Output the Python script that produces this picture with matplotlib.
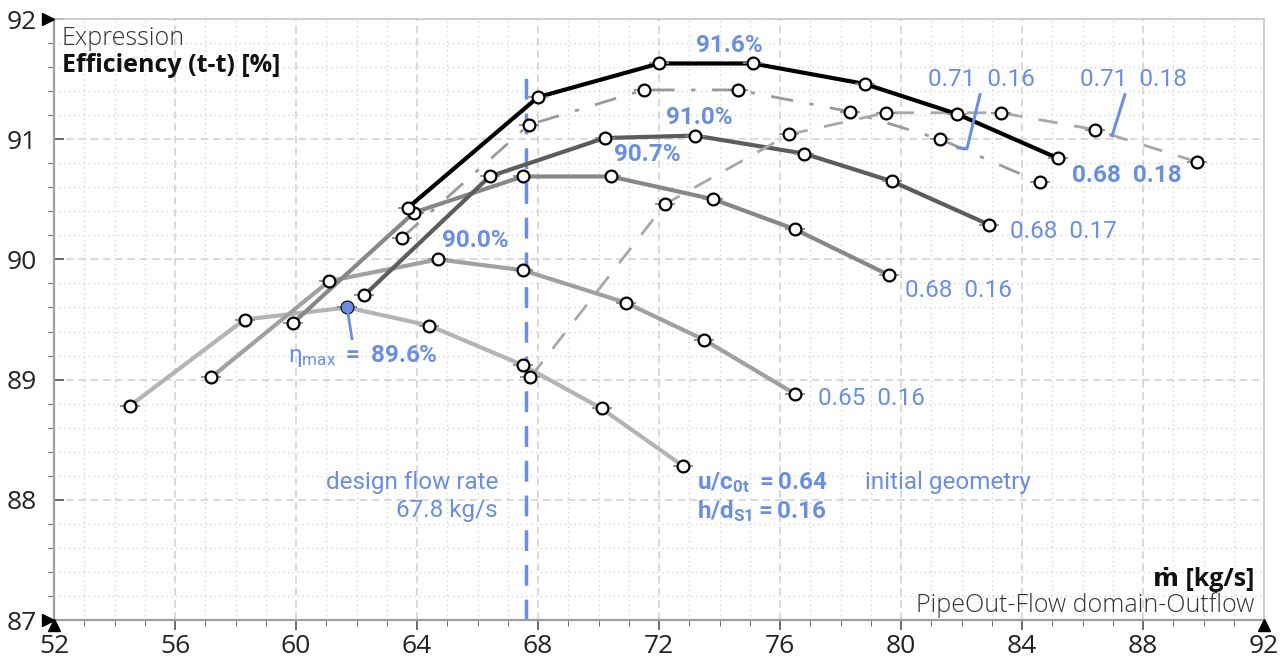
import matplotlib
matplotlib.use("Agg")
import matplotlib.pyplot as plt
from matplotlib.ticker import MultipleLocator
from matplotlib.transforms import ScaledTranslation

plt.rcParams['font.family'] = ['Open Sans', 'DejaVu Sans']
plt.rcParams['mathtext.fontset'] = 'custom'
plt.rcParams['mathtext.rm'] = 'Roboto'
plt.rcParams['mathtext.bf'] = 'Roboto:bold'
plt.rcParams['mathtext.it'] = 'Roboto:italic'

BLUE = '#6a8fe0'

# mass flow [kg/s] and total-to-total efficiency [%] per variant (u/c0t, h/dS1)
m_064_016 = [54.5, 58.3, 61.7, 64.4, 67.5, 70.1, 72.8]
e_064_016 = [88.78, 89.50, 89.60, 89.45, 89.12, 88.76, 88.28]

m_065_016 = [57.2, 61.1, 64.7, 67.5, 70.9, 73.5, 76.5]
e_065_016 = [89.02, 89.82, 90.00, 89.91, 89.64, 89.33, 88.88]

m_068_016 = [59.9, 63.9, 67.5, 70.4, 73.8, 76.5, 79.6]
e_068_016 = [89.47, 90.39, 90.69, 90.69, 90.50, 90.25, 89.87]

m_068_017 = [62.25, 66.4, 70.2, 73.2, 76.8, 79.7, 82.9]
e_068_017 = [89.70, 90.69, 91.01, 91.03, 90.88, 90.65, 90.29]

m_068_018 = [63.7, 68.0, 72.0, 75.1, 78.8, 81.85, 85.2]
e_068_018 = [90.43, 91.35, 91.63, 91.63, 91.46, 91.21, 90.84]

m_071_016 = [63.5, 67.7, 71.5, 74.6, 78.3, 81.3, 84.6]
e_071_016 = [90.18, 91.12, 91.41, 91.41, 91.23, 91.00, 90.64]

m_071_018 = [67.75, 72.2, 76.3, 79.5, 83.3, 86.4, 89.8]
e_071_018 = [89.02, 90.46, 91.04, 91.22, 91.22, 91.08, 90.81]

design_flow = 67.6
eta_max_point = (61.7, 89.60)

series = [
    (m_064_016, e_064_016, '#b4b4b4', '-', 3),
    (m_065_016, e_065_016, '#a0a0a0', '-', 3),
    (m_068_016, e_068_016, '#878787', '-', 3),
    (m_068_017, e_068_017, '#5c5c5c', '-', 3),
    (m_071_016, e_071_016, '#9a9a9a', (0, (8, 6, 1.5, 6)), 2),
    (m_071_018, e_071_018, '#a8a8a8', (0, (7, 6)), 2),
    (m_068_018, e_068_018, '#000000', '-', 3),
]

fig = plt.figure(figsize=(12.86, 6.6), dpi=100)
ax = fig.add_axes([0.042, 0.0606, 0.9409, 0.9106])

for x, y, c, ls, lw in series:
    ax.plot(x, y, color=c, ls=ls, lw=lw, zorder=3)
    ax.plot(x, y, ls='none', marker='_', ms=15, mew=1.3, color='#8c8c8c', zorder=4)
    ax.plot(x, y, ls='none', marker='o', ms=8.5, mfc='white', mec='black', mew=1.6, zorder=5)

ax.plot(*eta_max_point, marker='o', ms=7.5, color=BLUE, zorder=6)

ax.set_xlim(52, 92)
ax.set_ylim(87, 92)
ax.xaxis.set_major_locator(MultipleLocator(4))
ax.xaxis.set_minor_locator(MultipleLocator(1))
ax.yaxis.set_major_locator(MultipleLocator(1))
ax.yaxis.set_minor_locator(MultipleLocator(0.2))
ax.grid(which='major', color='#cfcfcf', ls=(0, (5, 3)), lw=1.1)
ax.grid(which='minor', color='#d6d6d6', ls=(0, (1, 2.5)), lw=1.0)
ax.set_axisbelow(True)

ax.tick_params(axis='both', which='major', labelsize=19, colors='#222222', width=1.2, color='#555555')
ax.tick_params(axis='x', which='major', direction='out', length=7, pad=3)
ax.tick_params(axis='x', which='minor', direction='out', length=4, color='#555555')
ax.tick_params(axis='y', which='major', direction='in', length=7, pad=12)
ax.tick_params(axis='y', which='minor', direction='out', length=4, color='#555555')
for s in ['left', 'bottom']:
    ax.spines[s].set_color('#a0a0a0')
    ax.spines[s].set_linewidth(1.6)
for s in ['top', 'right']:
    ax.spines[s].set_color('#c8c8c8')
    ax.spines[s].set_linewidth(1.2)

# axis end arrows
for t in ax.plot([0, 0], [0, 1], ls='none', marker='>', ms=8, color='black', clip_on=False, zorder=10):
    t.set_transform(ax.transAxes + ScaledTranslation(-6 / 100, 0, fig.dpi_scale_trans))
for t in ax.plot([0, 1], [0, 0], ls='none', marker='^', ms=8, color='black', clip_on=False, zorder=10):
    t.set_transform(ax.transAxes + ScaledTranslation(0, -5 / 100, fig.dpi_scale_trans))

# design flow rate line
ax.plot([design_flow, design_flow], [87, 91.62], color=BLUE, lw=2.5, ls=(0, (6, 4)), zorder=2)

# header / footer texts
ax.text(0.0066, 0.968, 'Expression', transform=ax.transAxes, fontsize=18, color='#333333',
        fontweight='light', va='center', ha='left')
ax.text(0.0066, 0.923, 'Efficiency (t-t) [%]', transform=ax.transAxes, fontsize=18,
        color='#111111', fontweight='bold', va='center', ha='left')
ax.text(0.992, 0.067, 'ṁ [kg/s]', transform=ax.transAxes, fontsize=18, color='#111111',
        fontweight='bold', va='center', ha='right')
ax.text(0.992, 0.025, 'PipeOut-Flow domain-Outflow', transform=ax.transAxes, fontsize=18,
        color='#333333', fontweight='light', va='center', ha='right')

lab = dict(family='Roboto', color=BLUE, fontsize=17.5, va='center')
ax.text(74.31, 91.78, '91.6%', ha='center', fontweight='bold', **lab)
ax.text(73.32, 91.18, '91.0%', ha='center', fontweight='bold', **lab)
ax.text(71.60, 90.87, '90.7%', ha='center', fontweight='bold', **lab)
ax.text(65.92, 90.16, '90.0%', ha='center', fontweight='bold', **lab)
ax.text(59.74, 89.20, r'$\mathrm{η}_{\mathrm{max}}$ $\mathbf{=\ 89.6\%}$', ha='left', **lab)
ax.plot([61.69, 61.85], [89.60, 89.34], color=BLUE, lw=2, zorder=6)

ax.text(80.89, 91.50, '0.71  0.16', ha='left', **lab)
ax.plot([82.61, 82.18, 81.88], [91.37, 90.92, 90.93], color=BLUE, lw=2.2, zorder=6)
ax.text(85.92, 91.50, '0.71  0.18', ha='left', **lab)
ax.plot([87.40, 86.98], [91.37, 91.03], color=BLUE, lw=2.2, zorder=6)
ax.text(85.65, 90.70, '0.68  0.18', ha='left', fontweight='bold', **lab)
ax.text(83.60, 90.23, '0.68  0.17', ha='left', **lab)
ax.text(80.13, 89.74, '0.68  0.16', ha='left', **lab)
ax.text(77.26, 88.84, '0.65  0.16', ha='left', **lab)

ax.text(73.26, 88.14, r'$\mathbf{u/c_{0t}\ =0.64}$', ha='left', **lab)
ax.text(73.26, 87.91, r'$\mathbf{h/d_{S1}=0.16}$', ha='left', **lab)
ax.text(78.81, 88.14, 'initial geometry', ha='left', **lab)
ax.text(66.68, 88.14, 'design flow rate', ha='right', **lab)
ax.text(66.68, 87.91, '67.8 kg/s', ha='right', **lab)

fig.savefig('out.png', dpi=100)
